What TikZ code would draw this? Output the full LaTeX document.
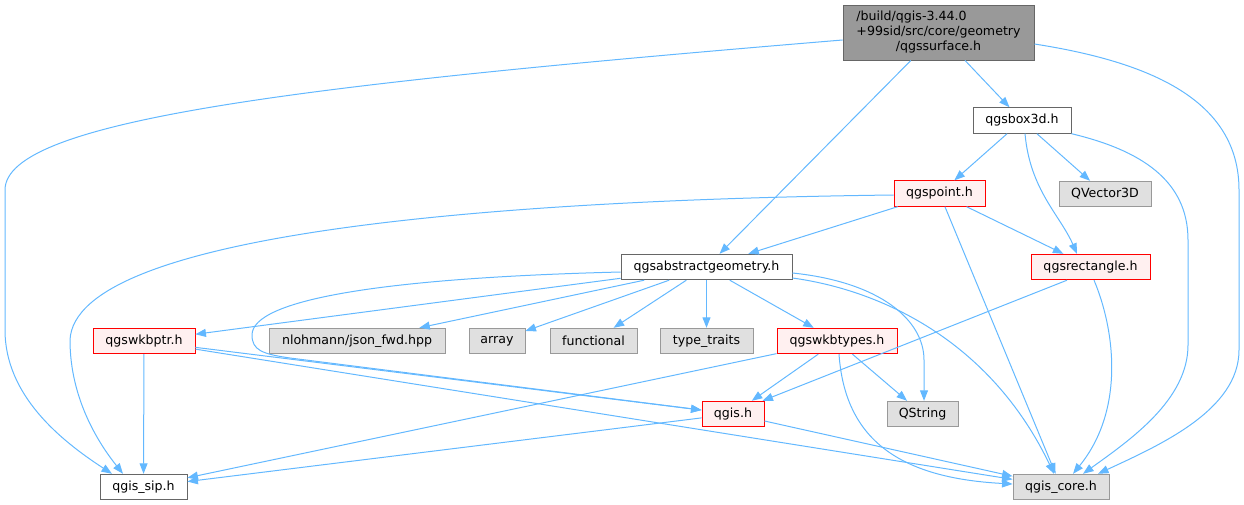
\documentclass[tikz,border=0pt]{standalone}
\usepackage{fontspec}
\setmainfont{DejaVu Sans}
\usetikzlibrary{arrows.meta}
\definecolor{edgec}{HTML}{63B8FF}
\definecolor{redfill}{HTML}{FFF0F0}
\definecolor{extfill}{HTML}{E0E0E0}
\definecolor{extline}{HTML}{999999}
\definecolor{plainline}{HTML}{666666}
\definecolor{topfill}{HTML}{999999}
\begin{document}
\begin{tikzpicture}[x=1pt,y=-1pt,
  box/.style={draw, rectangle, inner sep=0pt, minimum height=25.5pt, line width=0.9pt,
    font=\fontsize{12.6}{15}\selectfont},
  plain/.style={box, draw=plainline, fill=white},
  redbox/.style={box, draw=red, fill=redfill},
  extbox/.style={box, draw=extline, fill=extfill},
  topbox/.style={box, draw=plainline, fill=topfill},
  dep/.style={draw=edgec, line width=1pt, -{Triangle[length=10.5pt,width=8pt]}}]
\useasboundingbox (0,0) rectangle (1244,505);

% nodes
\node[topbox, minimum width=191pt, minimum height=55pt] (top) at (938.5,32.5)
  {\begin{tabular}{@{}c@{}}\multicolumn{1}{@{}l@{}}{/build/qgis-3.44.0}\\+99sid/src/core/geometry\\/qgssurface.h\end{tabular}};
\node[plain, minimum width=98pt] (box) at (1022,120.5) {qgsbox3d.h};
\node[redbox, minimum width=91pt] (qp) at (939.5,193.5) {qgspoint.h};
\node[extbox, minimum width=92pt] (qv) at (1105,194) {QVector3D};
\node[redbox, minimum width=119pt] (qr) at (1090.5,267) {qgsrectangle.h};
\node[plain, minimum width=171pt] (ag) at (706.5,267) {qgsabstractgeometry.h};
\node[redbox, minimum width=102pt] (wp) at (144,341) {qgswkbptr.h};
\node[extbox, minimum width=176pt] (nl) at (357,341) {nlohmann/json\_fwd.hpp};
\node[extbox, minimum width=56pt] (arr) at (497,341) {array};
\node[extbox, minimum width=87pt] (fun) at (593.5,341) {functional};
\node[extbox, minimum width=93pt] (tt) at (706.5,341) {type\_traits};
\node[redbox, minimum width=120pt] (wt) at (837,341) {qgswkbtypes.h};
\node[redbox, minimum width=62pt] (qi) at (733,414) {qgis.h};
\node[extbox, minimum width=71pt] (qs) at (922.5,414) {QString};
\node[plain, minimum width=87pt] (sip) at (143.5,487) {qgis\_sip.h};
\node[extbox, minimum width=96pt] (core) at (1061,487) {qgis\_core.h};

% straight edges
\draw[dep] (top) -- (box);
\draw[dep] (top) -- (ag);
\draw[dep] (box) -- (qp);
\draw[dep] (box) -- (qv);
\draw[dep] (qp) -- (ag);
\draw[dep] (qp) -- (qr);
\draw[dep] (qp) -- (core);
\draw[dep] (ag) -- (wp);
\draw[dep] (ag) -- (nl);
\draw[dep] (ag) -- (arr);
\draw[dep] (ag) -- (fun);
\draw[dep] (ag) -- (tt);
\draw[dep] (ag) -- (wt);
\draw[dep] (wp) -- (sip);
\draw[dep] (wp) -- (qi);
\draw[dep] (wp) -- (core);
\draw[dep] (wt) -- (sip);
\draw[dep] (wt) -- (qi);
\draw[dep] (wt) -- (qs);
\draw[dep] (qi) -- (sip);
\draw[dep] (qi) -- (core);
\draw[dep] ([xshift=-23.5pt]qr.south) -- ([xshift=-2pt]qi.north east);

% curved edges
\draw[dep] ([yshift=-7.5pt]top.west) .. controls (300,85) and (5,120) .. (5,190)
  -- (5,330) .. controls (5,395) and (60,440) .. ([xshift=-31.5pt]sip.north);
\draw[dep] ([yshift=-11.5pt]top.east) .. controls (1150,62) and (1239,100) .. (1239,190)
  -- (1239,350) .. controls (1239,410) and (1160,445) .. ([xshift=37pt]core.north);
\draw[dep] ([xshift=3pt]box.south) .. controls (1030,190) and (1060,215) .. ([xshift=-13.5pt]qr.north);
\draw[dep] (box.south east) .. controls (1140,150) and (1188,180) .. (1188,240)
  -- (1188,345) .. controls (1188,400) and (1130,440) .. ([xshift=22pt]core.north);
\draw[dep] ([yshift=-1.5pt]qp.west) .. controls (480,200) and (75,235) .. (70,340)
  .. controls (70,400) and (100,445) .. ([xshift=-20.5pt]sip.north);
\draw[dep] ([xshift=3.5pt]qr.south) .. controls (1115,330) and (1125,410) .. ([xshift=12pt]core.north);
\draw[dep] ([yshift=-5pt]ag.west) .. controls (380,278) and (252,300) .. (252,335)
  .. controls (252,350) and (262,354) .. (290,358) -- ([yshift=4pt]qi.west);
\draw[dep] ([yshift=-6pt]ag.east) .. controls (880,282) and (924,320) .. (924,360)
  -- ([xshift=1.5pt]qs.north);
\draw[dep] ([yshift=-11pt]ag.east) .. controls (880,290) and (990,340) .. ([xshift=-7pt]core.north);
\draw[dep] ([xshift=2pt]wt.south) .. controls (845,440) and (900,478) .. ([yshift=3pt]core.west);
\end{tikzpicture}
\end{document}
